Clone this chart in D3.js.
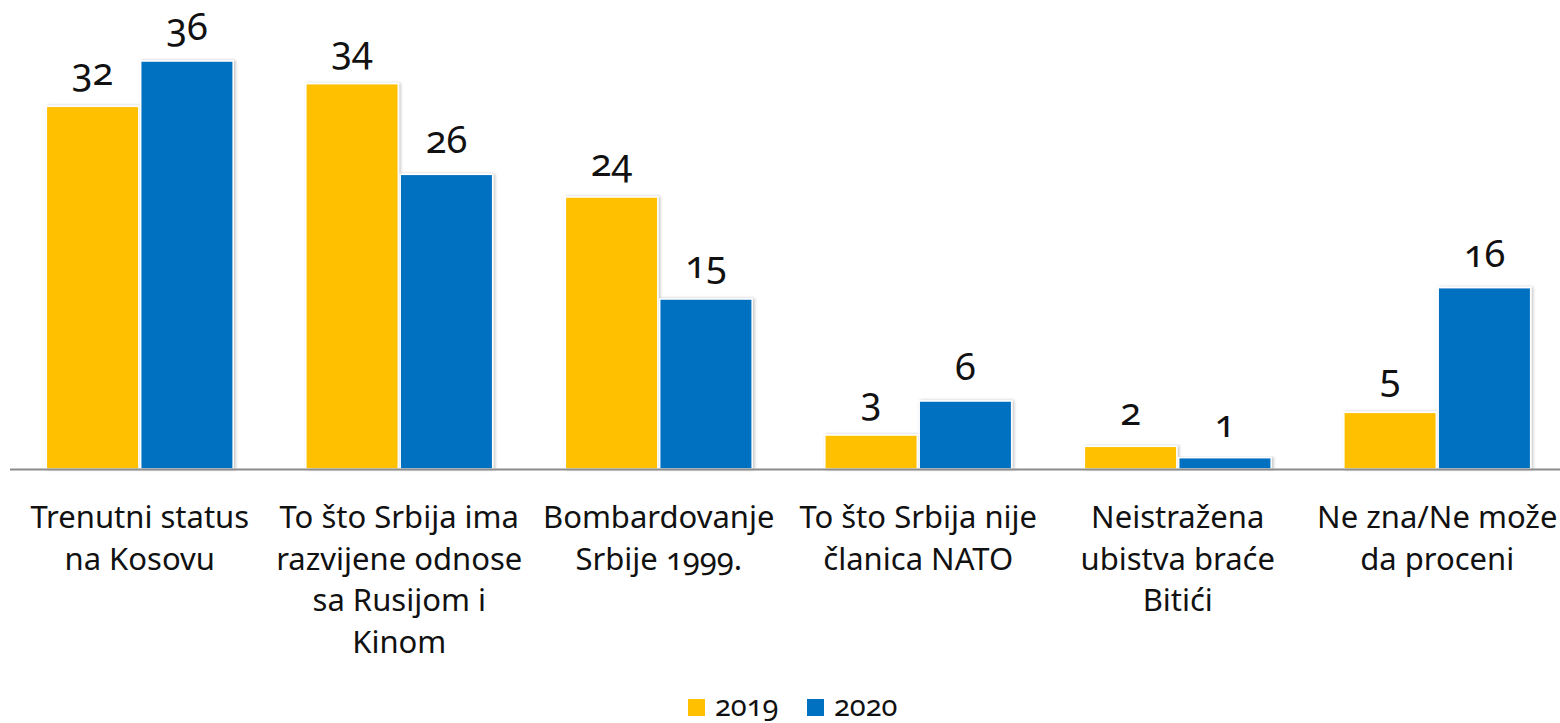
<!DOCTYPE html>
<meta charset="utf-8">
<script src="https://d3js.org/d3.v7.min.js"></script>
<style>
body{margin:0;background:#fff}
text{font-family:"Noto Sans","Open Sans",sans-serif;fill:#111;font-variant-numeric:oldstyle-nums}
</style>
<div id="chart"></div>
<script>
// categories (lines of each label) and values per year
var categories = [
  ["Trenutni status","na Kosovu"],
  ["To što Srbija ima","razvijene odnose","sa Rusijom i","Kinom"],
  ["Bombardovanje","Srbije 1999."],
  ["To što Srbija nije","članica NATO"],
  ["Neistražena","ubistva braće","Bitići"],
  ["Ne zna/Ne može","da proceni"]
]
var years = ["2019","2020"]
var values2019 = [32,34,24,3,2,5]
var values2020 = [36,26,15,6,1,16]
var colors = {"2019":"#FFC000","2020":"#0070C0"}

var width = 1560, height = 723
var svg = d3.select("#chart").append("svg").attr("width",width).attr("height",height)

var defs = svg.append("defs")
var f = defs.append("filter").attr("id","shadow").attr("x","-10%").attr("y","-10%").attr("width","130%").attr("height","120%")
f.append("feDropShadow").attr("dx",1.5).attr("dy",0).attr("stdDeviation",1.8).attr("flood-color","#000").attr("flood-opacity",0.25)

var x0 = d3.scaleBand().domain(d3.range(categories.length)).range([10,1567]).paddingInner(0.28).paddingOuter(0.14)
var x1 = d3.scaleBand().domain(years).range([0,x0.bandwidth()]).paddingInner(0.02)
var y = d3.scaleLinear().domain([0,36]).range([469,61])

var data = []
categories.forEach(function(c,i){
  data.push({i:i,year:"2019",v:values2019[i]})
  data.push({i:i,year:"2020",v:values2020[i]})
})

svg.append("g").selectAll("rect").data(data).join("rect")
  .attr("x",d=>x0(d.i)+x1(d.year))
  .attr("y",d=>y(d.v))
  .attr("width",x1.bandwidth())
  .attr("height",d=>y(0)-y(d.v))
  .attr("fill",d=>colors[d.year])
  .attr("stroke","#fff").attr("stroke-width",1.5)
  .attr("filter","url(#shadow)")

svg.append("line").attr("x1",10).attr("x2",1560).attr("y1",y(0)+0.5).attr("y2",y(0)+0.5)
  .attr("stroke","#8c8c8c").attr("stroke-width",2)

svg.append("g").selectAll("text").data(data).join("text")
  .attr("x",d=>x0(d.i)+x1(d.year)+x1.bandwidth()/2)
  .attr("y",d=>y(d.v)-21)
  .attr("text-anchor","middle")
  .style("font-size","38px")
  .text(d=>d.v)

var labels = svg.append("g").selectAll("text").data(categories).join("text")
  .attr("text-anchor","middle")
  .style("font-size","31px")
labels.selectAll("tspan").data((d,i)=>d.map(t=>({t:t,i:i}))).join("tspan")
  .attr("x",d=>x0(d.i)+x0.bandwidth()/2)
  .attr("y",(d,j)=>528+j*41.5)
  .text(d=>d.t)

var legendX = [688,807]
var legend = svg.append("g").selectAll("g").data(years).join("g")
  .attr("transform",(d,i)=>"translate("+legendX[i]+",699)")
legend.append("rect").attr("width",17).attr("height",17).attr("fill",d=>colors[d])
legend.append("text").attr("x",27).attr("y",17).style("font-size","29px").text(d=>d)
</script>
